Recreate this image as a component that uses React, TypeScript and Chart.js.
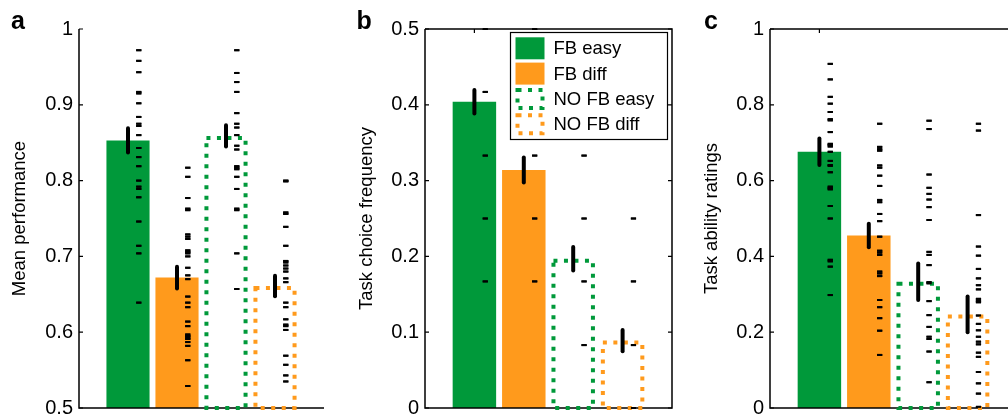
import React, { useEffect, useRef } from 'react';
import { Chart, registerables } from 'chart.js';
Chart.register(...registerables);

const GREEN = '#00993a';
const ORANGE = '#ff9a1c';
const FONT = '"Liberation Sans", Arial, Helvetica, sans-serif';

// groups
const groupLabels = ['FB easy', 'FB diff', 'NO FB easy', 'NO FB diff'];
const groupColors = [GREEN, ORANGE, GREEN, ORANGE];
const groupDotted = [false, false, true, true];
const categoryPositions = [1, 2, 3, 4];
const topTickPositions = [1];

// panel a: mean performance
const perfMeans = [0.853, 0.672, 0.859, 0.661];
const perfSem = [0.016, 0.0145, 0.014, 0.0135];
const perfFbEasy = [0.972, 0.958, 0.943, 0.917, 0.915, 0.902, 0.884, 0.875, 0.872, 0.86, 0.843, 0.831, 0.819, 0.8, 0.792, 0.789, 0.778, 0.746, 0.714, 0.704, 0.639];
const perfFbDiff = [0.817, 0.805, 0.777, 0.763, 0.761, 0.729, 0.726, 0.723, 0.708, 0.706, 0.704, 0.7, 0.685, 0.675, 0.67, 0.647, 0.639, 0.633, 0.614, 0.608, 0.597, 0.595, 0.593, 0.591, 0.587, 0.582, 0.563, 0.529];
const perfNoFbEasy = [0.972, 0.942, 0.93, 0.917, 0.889, 0.875, 0.87, 0.86, 0.846, 0.841, 0.819, 0.817, 0.815, 0.805, 0.789, 0.763, 0.761, 0.704, 0.657];
const perfNoFbDiff = [0.8, 0.799, 0.758, 0.756, 0.739, 0.714, 0.694, 0.692, 0.688, 0.684, 0.68, 0.671, 0.666, 0.639, 0.633, 0.617, 0.61, 0.608, 0.603, 0.569, 0.557, 0.543, 0.535];
const perfTicks = [0.5, 0.6, 0.7, 0.8, 0.9, 1];
const perfTickLabels = ['0.5', '0.6', '0.7', '0.8', '0.9', '1'];

// panel b: task choice frequency
const choiceMeans = [0.404, 0.314, 0.197, 0.089];
const choiceSem = [0.0155, 0.0165, 0.0155, 0.014];
const choiceFbEasy = [0.5, 0.417, 0.333, 0.25, 0.167];
const choiceFbDiff = [0.5, 0.333, 0.25, 0.167];
const choiceNoFbEasy = [0.333, 0.25, 0.167, 0.083];
const choiceNoFbDiff = [0.25, 0.167, 0.083, 0];
const choiceTicks = [0, 0.1, 0.2, 0.3, 0.4, 0.5];
const choiceTickLabels = ['0', '0.1', '0.2', '0.3', '0.4', '0.5'];

// panel c: task ability ratings
const abilityMeans = [0.676, 0.455, 0.333, 0.247];
const abilitySem = [0.035, 0.031, 0.048, 0.047];
const abilityFbEasy = [0.908, 0.867, 0.821, 0.803, 0.781, 0.762, 0.759, 0.728, 0.697, 0.694, 0.69, 0.676, 0.652, 0.641, 0.639, 0.622, 0.584, 0.58, 0.577, 0.533, 0.5, 0.391, 0.387, 0.373, 0.298];
const abilityFbDiff = [0.75, 0.689, 0.683, 0.679, 0.64, 0.634, 0.613, 0.586, 0.549, 0.543, 0.512, 0.493, 0.452, 0.415, 0.41, 0.404, 0.36, 0.355, 0.348, 0.285, 0.266, 0.237, 0.204, 0.14];
const abilityNoFbEasy = [0.758, 0.736, 0.616, 0.581, 0.565, 0.55, 0.53, 0.496, 0.412, 0.404, 0.377, 0.332, 0.329, 0.282, 0.245, 0.214, 0.188, 0.182, 0.149, 0.068];
const abilityNoFbDiff = [0.75, 0.732, 0.509, 0.426, 0.402, 0.367, 0.342, 0.324, 0.313, 0.288, 0.283, 0.279, 0.244, 0.222, 0.205, 0.188, 0.175, 0.168, 0.146, 0.135, 0.095, 0.065, 0.038, 0.003];
const abilityTicks = [0, 0.2, 0.4, 0.6, 0.8, 1];
const abilityTickLabels = ['0', '0.2', '0.4', '0.6', '0.8', '1'];

const DASH_OFFSET = 0.22;

type PanelCfg = {
  key: string;
  title: string;
  means: number[];
  sem: number[];
  subjects: number[][];
  yMin: number;
  yMax: number;
  ticks: number[];
  tickLabels: string[];
  axisWidth: number;
  padRight: number;
  titlePad: number;
  box: boolean;
  legend: boolean;
};

function drawDottedRect(ctx: CanvasRenderingContext2D, x: number, y: number, w: number, h: number, color: string) {
  ctx.save();
  ctx.strokeStyle = color;
  ctx.lineWidth = 4;
  ctx.lineCap = 'butt';
  ctx.setLineDash([4, 6.5]);
  ctx.strokeRect(x, y, w, h);
  ctx.restore();
}

function makePlugin(cfg: PanelCfg) {
  return {
    id: 'panel_' + cfg.key,
    afterDatasetsDraw(chart: any) {
      const ctx = chart.ctx as CanvasRenderingContext2D;
      const xs = chart.scales.x;
      const ys = chart.scales.y;
      const { left, right, top, bottom } = chart.chartArea;
      ctx.save();
      // axes
      ctx.strokeStyle = '#000';
      ctx.lineCap = 'butt';
      ctx.lineWidth = 1.5;
      ctx.beginPath();
      ctx.moveTo(left, top);
      ctx.lineTo(left, bottom);
      ctx.lineTo(right, bottom);
      if (cfg.box) {
        ctx.lineTo(right, top);
        ctx.lineTo(left, top);
      }
      ctx.stroke();
      // inward ticks
      ctx.lineWidth = 1.2;
      ctx.beginPath();
      cfg.ticks.forEach((t) => {
        const py = ys.getPixelForValue(t);
        ctx.moveTo(left, py);
        ctx.lineTo(left + 4, py);
        if (cfg.box) {
          ctx.moveTo(right, py);
          ctx.lineTo(right - 4, py);
        }
      });
      if (cfg.box) {
        topTickPositions.forEach((t) => {
          const px = xs.getPixelForValue(t);
          ctx.moveTo(px, top);
          ctx.lineTo(px, top + 4);
        });
      }
      ctx.stroke();
      ctx.restore();
      // dotted outlines for the no-feedback bars
      const barMeta = chart.getDatasetMeta(1);
      barMeta.data.forEach((bar: any, i: number) => {
        if (!groupDotted[i]) return;
        const p = bar.getProps(['x', 'y', 'base', 'width'], true);
        drawDottedRect(ctx, p.x - p.width / 2 + 2, p.y + 2, p.width - 4, p.base - p.y - 2, groupColors[i]);
      });
      // individual subject dashes (redraw on top of outlines)
      const scatterMeta = chart.getDatasetMeta(0);
      scatterMeta.data.forEach((pt: any) => pt.draw(ctx, chart.chartArea));
      // error bars
      ctx.save();
      ctx.strokeStyle = '#000';
      ctx.lineWidth = 4;
      ctx.lineCap = 'round';
      cfg.means.forEach((m, i) => {
        const px = xs.getPixelForValue(categoryPositions[i]);
        ctx.beginPath();
        ctx.moveTo(px, ys.getPixelForValue(m - cfg.sem[i]));
        ctx.lineTo(px, ys.getPixelForValue(m + cfg.sem[i]));
        ctx.stroke();
      });
      ctx.restore();
    },
    afterDraw(chart: any) {
      if (!cfg.legend) return;
      const ctx = chart.ctx as CanvasRenderingContext2D;
      const { right, top } = chart.chartArea;
      const bw = 157;
      const bh = 107;
      const bx = right - 4.5 - bw;
      const by = top + 3.5;
      ctx.save();
      ctx.fillStyle = '#fff';
      ctx.fillRect(bx, by, bw, bh);
      ctx.strokeStyle = '#000';
      ctx.lineWidth = 1.2;
      ctx.strokeRect(bx, by, bw, bh);
      ctx.font = '18.5px ' + FONT;
      ctx.textBaseline = 'middle';
      ctx.textAlign = 'left';
      groupLabels.forEach((label, i) => {
        const cy = by + 15.8 + i * 25.3;
        const sx = bx + 5;
        const sw = 29;
        const sh = 22;
        if (groupDotted[i]) {
          drawDottedRect(ctx, sx + 2, cy - sh / 2 + 2, sw - 4, sh - 4, groupColors[i]);
        } else {
          ctx.fillStyle = groupColors[i];
          ctx.fillRect(sx, cy - sh / 2, sw, sh);
        }
        ctx.fillStyle = '#000';
        ctx.fillText(label, bx + 43, cy + 1);
      });
      ctx.restore();
    },
  };
}

function buildChart(canvas: HTMLCanvasElement, cfg: PanelCfg) {
  const dashPoints: { x: number; y: number }[] = [];
  cfg.subjects.forEach((vals, i) => {
    vals.forEach((v) => dashPoints.push({ x: categoryPositions[i] + DASH_OFFSET, y: v }));
  });
  const bars = cfg.means.map((m, i) => ({ x: categoryPositions[i], y: m }));
  return new Chart(canvas, {
    type: 'bar',
    data: {
      datasets: [
        {
          type: 'scatter',
          data: dashPoints,
          pointStyle: 'line',
          pointRadius: 2.6,
          pointBorderWidth: 2,
          pointBorderColor: '#000',
          pointBackgroundColor: '#000',
          order: 1,
        } as any,
        {
          type: 'bar',
          data: bars,
          backgroundColor: groupColors.map((c, i) => (groupDotted[i] ? 'rgba(0,0,0,0)' : c)),
          borderWidth: 0,
          barPercentage: 0.88,
          categoryPercentage: 1,
          base: cfg.yMin,
          order: 2,
        } as any,
      ],
    },
    options: {
      animation: false,
      responsive: false,
      events: [],
      layout: { padding: { top: 29, bottom: 10, left: 0, right: cfg.padRight } },
      plugins: { legend: { display: false }, tooltip: { enabled: false }, title: { display: false } },
      scales: {
        x: {
          type: 'linear',
          min: 0,
          max: 5,
          offset: false,
          ticks: { display: false },
          grid: { display: false },
          border: { display: false },
          afterFit: (s: any) => {
            s.height = 0;
            s.paddingLeft = 0;
            s.paddingRight = 0;
          },
        },
        y: {
          type: 'linear',
          min: cfg.yMin,
          max: cfg.yMax,
          afterBuildTicks: (s: any) => {
            s.ticks = cfg.ticks.map((v) => ({ value: v }));
          },
          ticks: {
            color: '#000',
            padding: 6,
            font: { family: FONT, size: 20 },
            callback: (_v: any, idx: number) => cfg.tickLabels[idx],
          },
          grid: { display: false, drawTicks: false },
          border: { display: false },
          title: {
            display: true,
            text: cfg.title,
            color: '#000',
            font: { family: FONT, size: 18.5 },
            padding: { top: cfg.titlePad, bottom: 0 },
          },
          afterFit: (s: any) => {
            s.width = cfg.axisWidth;
            s.paddingTop = 0;
            s.paddingBottom = 0;
          },
        },
      },
    } as any,
    plugins: [makePlugin(cfg)],
  });
}

const panels: (PanelCfg & { left: number; width: number; letter: string; letterLeft: number })[] = [
  {
    key: 'a', letter: 'a', letterLeft: 11, left: 0, width: 330,
    title: 'Mean performance', means: perfMeans, sem: perfSem,
    subjects: [perfFbEasy, perfFbDiff, perfNoFbEasy, perfNoFbDiff],
    yMin: 0.5, yMax: 1, ticks: perfTicks, tickLabels: perfTickLabels,
    axisWidth: 79, padRight: 5, titlePad: 8.9, box: false, legend: false,
  },
  {
    key: 'b', letter: 'b', letterLeft: 356.5, left: 340, width: 340,
    title: 'Task choice frequency', means: choiceMeans, sem: choiceSem,
    subjects: [choiceFbEasy, choiceFbDiff, choiceNoFbEasy, choiceNoFbDiff],
    yMin: 0, yMax: 0.5, ticks: choiceTicks, tickLabels: choiceTickLabels,
    axisWidth: 85, padRight: 8, titlePad: 15.9, box: true, legend: true,
  },
  {
    key: 'c', letter: 'c', letterLeft: 704, left: 680, width: 345,
    title: 'Task ability ratings', means: abilityMeans, sem: abilitySem,
    subjects: [abilityFbEasy, abilityFbDiff, abilityNoFbEasy, abilityNoFbDiff],
    yMin: 0, yMax: 1, ticks: abilityTicks, tickLabels: abilityTickLabels,
    axisWidth: 90, padRight: 8, titlePad: 20.9, box: true, legend: false,
  },
];

function Panel({ cfg }: { cfg: (typeof panels)[number] }) {
  const ref = useRef<HTMLCanvasElement | null>(null);
  useEffect(() => {
    if (!ref.current) return;
    const chart = buildChart(ref.current, cfg);
    return () => chart.destroy();
  }, [cfg]);
  return (
    <canvas
      ref={ref}
      width={cfg.width}
      height={418}
      style={{ position: 'absolute', left: cfg.left, top: 0, width: cfg.width, height: 418 }}
    />
  );
}

export default function App() {
  return (
    <div
      style={{
        position: 'absolute',
        left: 0,
        top: 0,
        width: 1008,
        height: 418,
        overflow: 'hidden',
        background: '#fff',
      }}
    >
      {panels.map((p) => (
        <Panel key={p.key} cfg={p} />
      ))}
      {panels.map((p) => (
        <div
          key={'l' + p.key}
          style={{
            position: 'absolute',
            left: p.letterLeft,
            top: 7.8,
            font: 'bold 25px ' + FONT,
            lineHeight: '25px',
            color: '#000',
          }}
        >
          {p.letter}
        </div>
      ))}
    </div>
  );
}
